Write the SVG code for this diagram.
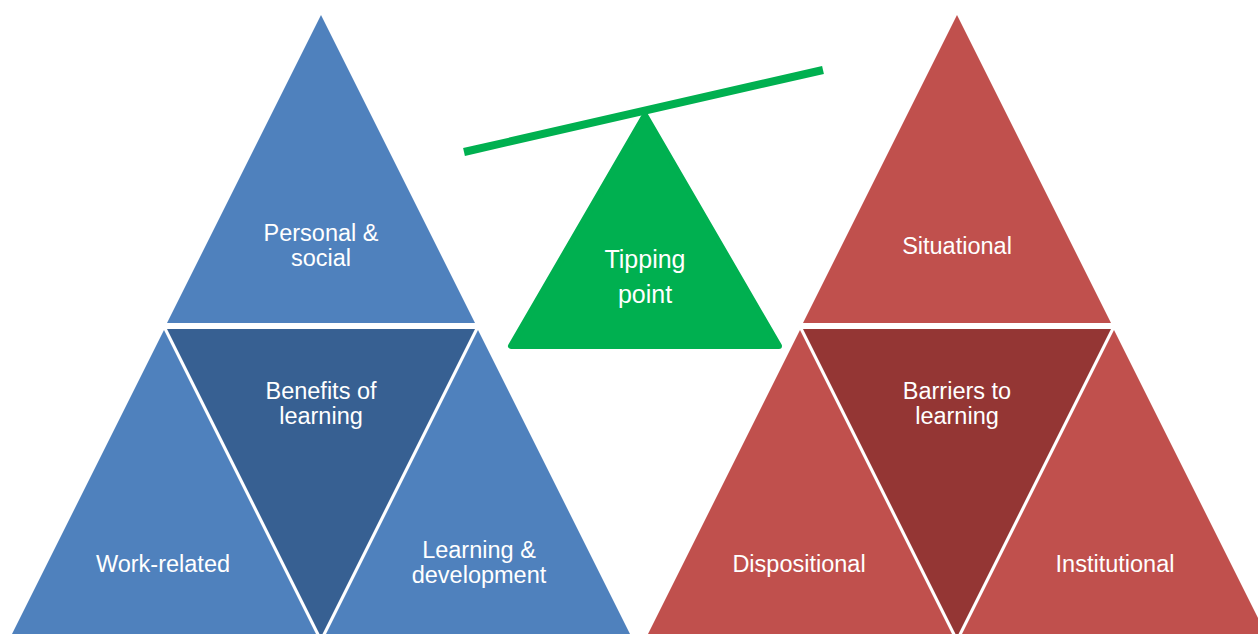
<svg xmlns="http://www.w3.org/2000/svg" width="1258" height="634" viewBox="0 0 1258 634">
  <style>
    .blue { fill: #4F81BD; }
    .blue-dark { fill: #376092; }
    .red { fill: #C0504D; }
    .red-dark { fill: #943634; }
    .label { font-family: "Liberation Sans", Arial, sans-serif; font-size: 23.5px; fill: #FFFFFF; text-anchor: middle; }
    .label-big { font-family: "Liberation Sans", Arial, sans-serif; font-size: 25px; fill: #FFFFFF; text-anchor: middle; }
  </style>
  <rect width="1258" height="634" fill="#FFFFFF"/>

  <!-- Benefits pyramid -->
  <g id="personal-social">
    <polygon class="blue" points="321,15 167,323 475,323"/>
    <text class="label" x="321" y="241">Personal &amp;</text>
    <text class="label" x="321" y="266">social</text>
  </g>
  <g id="benefits-of-learning">
    <polygon class="blue-dark" points="167,329 475,329 321,637"/>
    <text class="label" x="321" y="399">Benefits of</text>
    <text class="label" x="321" y="424">learning</text>
  </g>
  <g id="work-related">
    <polygon class="blue" points="164,330 12,634 316,634"/>
    <text class="label" x="163" y="572">Work-related</text>
  </g>
  <g id="learning-development">
    <polygon class="blue" points="478,330 326,634 630,634"/>
    <text class="label" x="479" y="558">Learning &amp;</text>
    <text class="label" x="479" y="583">development</text>
  </g>

  <!-- Seesaw -->
  <g id="tipping-point">
    <polygon points="645,115 511,346 779,346" fill="#00B050" stroke="#00B050" stroke-width="6" stroke-linejoin="round"/>
    <text class="label-big" x="645" y="268">Tipping</text>
    <text class="label-big" x="645" y="303">point</text>
  </g>
  <g id="balance-beam">
    <line x1="464" y1="152" x2="823" y2="70" stroke="#00B050" stroke-width="8"/>
  </g>

  <!-- Barriers pyramid -->
  <g id="situational">
    <polygon class="red" points="957,15 803,323 1111,323"/>
    <text class="label" x="957" y="254">Situational</text>
  </g>
  <g id="barriers-to-learning">
    <polygon class="red-dark" points="803,329 1111,329 957,637"/>
    <text class="label" x="957" y="399">Barriers to</text>
    <text class="label" x="957" y="424">learning</text>
  </g>
  <g id="dispositional">
    <polygon class="red" points="800,330 648,634 952,634"/>
    <text class="label" x="799" y="572">Dispositional</text>
  </g>
  <g id="institutional">
    <polygon class="red" points="1114,330 962,634 1266,634"/>
    <text class="label" x="1115" y="572">Institutional</text>
  </g>
</svg>
